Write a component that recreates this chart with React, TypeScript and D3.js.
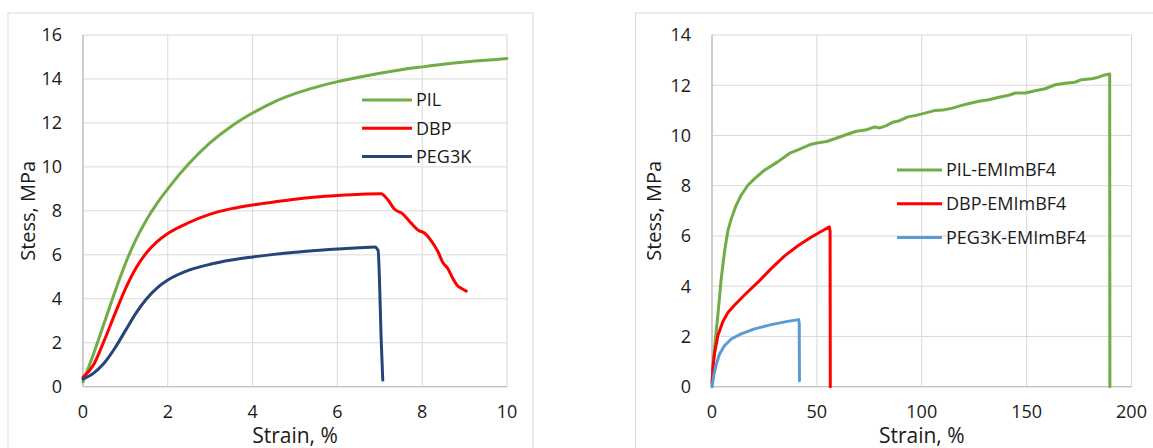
import React from "react";
import * as d3 from "d3";

// ---- Left chart data (strain %, stress MPa) ----
const pilStrain = [0, 0.25, 0.5, 0.75, 1, 1.25, 1.5, 1.75, 2, 2.5, 3, 3.5, 4, 4.5, 5, 5.5, 6, 6.5, 7, 7.5, 8, 8.5, 9, 9.5, 10];
const pilStress = [0.22, 1.5, 2.9, 4.3, 5.6, 6.7, 7.6, 8.35, 9.0, 10.15, 11.1, 11.85, 12.45, 12.95, 13.33, 13.63, 13.88, 14.08, 14.26, 14.42, 14.55, 14.67, 14.77, 14.85, 14.93];

const dbpStrain = [0, 0.25, 0.5, 0.75, 1, 1.25, 1.5, 1.75, 2, 2.5, 3, 3.5, 4, 4.5, 5, 5.5, 6, 6.56, 7.03, 7.19, 7.35, 7.54, 7.74, 7.9, 8.06, 8.21, 8.37, 8.49, 8.6, 8.72, 8.84, 8.92, 9.04];
const dbpStress = [0.43, 1.0, 2.1, 3.3, 4.45, 5.4, 6.1, 6.6, 6.97, 7.47, 7.85, 8.1, 8.27, 8.4, 8.53, 8.63, 8.7, 8.76, 8.78, 8.5, 8.07, 7.86, 7.44, 7.13, 6.98, 6.65, 6.15, 5.64, 5.39, 4.93, 4.58, 4.48, 4.35];

const pegStrain = [0, 0.25, 0.5, 0.75, 1, 1.25, 1.5, 1.75, 2, 2.5, 3, 3.5, 4, 4.5, 5, 5.5, 6, 6.5, 6.88, 6.96, 6.99, 7.03, 7.07];
const pegStress = [0.35, 0.62, 1.08, 1.75, 2.55, 3.35, 4.0, 4.5, 4.85, 5.3, 5.57, 5.76, 5.9, 6.02, 6.12, 6.2, 6.27, 6.32, 6.36, 6.2, 5.0, 2.28, 0.3];

// ---- Right chart data ----
const pilEStrain = [0, 0.4, 1.27, 2.85, 4.4, 6.0, 7.6, 9.2, 11.5, 13.9, 17.1, 20.3, 25, 31.3, 37.4, 42.1, 46.8, 50, 54.7, 59.5, 64.2, 68.9, 73.7, 77.6, 80, 83.1, 86.3, 89.4, 93.4, 97.3, 102, 106, 110, 114.7, 118.6, 122.6, 127.3, 132, 136.8, 141.5, 144.6, 149.4, 154.1, 158.8, 163.6, 168.3, 173, 176.2, 180.9, 184, 187.2, 189.6, 189.7];
const pilEStress = [0, 0.8, 1.6, 2.9, 4.3, 5.4, 6.22, 6.69, 7.22, 7.62, 8.02, 8.28, 8.62, 8.95, 9.31, 9.47, 9.64, 9.7, 9.76, 9.9, 10.04, 10.17, 10.23, 10.34, 10.3, 10.39, 10.53, 10.59, 10.74, 10.8, 10.9, 10.99, 11.01, 11.09, 11.19, 11.27, 11.36, 11.42, 11.52, 11.6, 11.69, 11.69, 11.78, 11.86, 12.02, 12.08, 12.12, 12.22, 12.26, 12.31, 12.41, 12.45, 0];

const dbpEStrain = [0, 0.6, 1.27, 2.85, 5.2, 7.6, 10.8, 15.5, 21.8, 28.2, 34.5, 40.8, 47.2, 53.5, 55.9, 56.3, 56.4];
const dbpEStress = [0.15, 0.9, 1.35, 2.05, 2.6, 2.95, 3.25, 3.65, 4.15, 4.7, 5.2, 5.6, 5.95, 6.25, 6.36, 6.2, 0];

const pegEStrain = [0, 0.95, 2.06, 3.6, 6, 9.2, 13.9, 20.3, 28.2, 36, 41.3, 41.6, 41.7];
const pegEStress = [0, 0.5, 0.9, 1.3, 1.64, 1.9, 2.1, 2.3, 2.47, 2.6, 2.67, 2.5, 0.24];

const leftXTicks = [0, 2, 4, 6, 8, 10];
const leftYTicks = [0, 2, 4, 6, 8, 10, 12, 14, 16];
const rightXTicks = [0, 50, 100, 150, 200];
const rightYTicks = [0, 2, 4, 6, 8, 10, 12, 14];

const leftSeries = [
  { name: "PIL", xs: pilStrain, ys: pilStress, color: "#70ad47" },
  { name: "DBP", xs: dbpStrain, ys: dbpStress, color: "#ff0000" },
  { name: "PEG3K", xs: pegStrain, ys: pegStress, color: "#264478" },
];
const rightSeries = [
  { name: "PIL-EMImBF4", xs: pilEStrain, ys: pilEStress, color: "#70ad47" },
  { name: "DBP-EMImBF4", xs: dbpEStrain, ys: dbpEStress, color: "#ff0000" },
  { name: "PEG3K-EMImBF4", xs: pegEStrain, ys: pegEStress, color: "#5b9bd5" },
];

const FONT = "'Open Sans', 'Noto Sans', sans-serif";

type Series = { name: string; xs: number[]; ys: number[]; color: string };

function Chart(props: {
  frame: [number, number, number, number];
  plot: [number, number, number, number];
  xDomain: [number, number];
  yDomain: [number, number];
  xTicks: number[];
  yTicks: number[];
  series: Series[];
  smooth: boolean;
  legend: { x1: number; x2: number; y0: number; dy: number };
  yTitleX: number;
}) {
  const { frame, plot, xDomain, yDomain, xTicks, yTicks, series, smooth, legend, yTitleX } = props;
  const [pl, pt, pr, pb] = plot;
  const x = d3.scaleLinear().domain(xDomain).range([pl, pr]);
  const y = d3.scaleLinear().domain(yDomain).range([pb, pt]);
  const line = d3
    .line<[number, number]>()
    .x((d) => x(d[0]))
    .y((d) => y(d[1]))
    .curve(smooth ? d3.curveMonotoneX : d3.curveLinear);
  const cx = (pl + pr) / 2;
  const cy = (pt + pb) / 2;
  return (
    <g>
      <rect x={frame[0]} y={frame[1]} width={frame[2] - frame[0]} height={frame[3] - frame[1]} fill="#fff" stroke="#d9d9d9" strokeWidth={1} />
      {xTicks.map((t) => (
        <line key={"gx" + t} x1={x(t)} x2={x(t)} y1={pt} y2={pb} stroke="#d9d9d9" strokeWidth={1} />
      ))}
      {yTicks.map((t) => (
        <line key={"gy" + t} x1={pl} x2={pr} y1={y(t)} y2={y(t)} stroke="#d9d9d9" strokeWidth={1} />
      ))}
      <line x1={pl} x2={pl} y1={pt} y2={pb} stroke="#bfbfbf" strokeWidth={1.3} />
      <line x1={pl} x2={pr} y1={pb} y2={pb} stroke="#bfbfbf" strokeWidth={1.3} />
      {yTicks.map((t) => (
        <text key={"ty" + t} x={pl - 21} y={y(t)} dy="0.36em" textAnchor="end" fontFamily={FONT} fontSize={18} fill="#1a1a1a">
          {t}
        </text>
      ))}
      {xTicks.map((t) => (
        <text key={"tx" + t} x={x(t)} y={418} textAnchor="middle" fontFamily={FONT} fontSize={18} fill="#1a1a1a">
          {t}
        </text>
      ))}
      {series.map((s) => (
        <path
          key={s.name}
          d={line(s.xs.map((v, i) => [v, s.ys[i]] as [number, number])) || ""}
          fill="none"
          stroke={s.color}
          strokeWidth={3}
          strokeLinejoin="round"
          strokeLinecap="round"
        />
      ))}
      {series.map((s, i) => (
        <g key={"lg" + s.name}>
          <line x1={legend.x1} x2={legend.x2} y1={legend.y0 + i * legend.dy} y2={legend.y0 + i * legend.dy} stroke={s.color} strokeWidth={3} />
          <text x={legend.x2 + 4} y={legend.y0 + i * legend.dy} dy="0.36em" fontFamily={FONT} fontSize={18} fill="#1a1a1a">
            {s.name}
          </text>
        </g>
      ))}
      <text x={cx} y={443} textAnchor="middle" fontFamily={FONT} fontSize={21} fill="#1a1a1a">
        Strain, %
      </text>
      <text
        transform={`translate(${yTitleX},${cy}) rotate(-90)`}
        textAnchor="middle"
        dy="0.36em"
        fontFamily={FONT}
        fontSize={20}
        fill="#1a1a1a"
      >
        Stess, MPa
      </text>
    </g>
  );
}

export default function App() {
  return (
    <div style={{ position: "fixed", left: 0, top: 0 }}>
      <svg width={1153} height={448} style={{ display: "block", background: "#fff" }}>
        <Chart
          frame={[8, 13, 533, 470]}
          plot={[83, 35, 507, 386.7]}
          xDomain={[0, 10]}
          yDomain={[0, 16]}
          xTicks={leftXTicks}
          yTicks={leftYTicks}
          series={leftSeries}
          smooth={true}
          legend={{ x1: 362, x2: 412, y0: 100, dy: 28.3 }}
          yTitleX={28}
        />
        <Chart
          frame={[635.5, 13, 1180, 470]}
          plot={[712, 35, 1131.5, 386.7]}
          xDomain={[0, 200]}
          yDomain={[0, 14]}
          xTicks={rightXTicks}
          yTicks={rightYTicks}
          series={rightSeries}
          smooth={false}
          legend={{ x1: 897, x2: 942, y0: 170, dy: 33.7 }}
          yTitleX={654}
        />
      </svg>
    </div>
  );
}
